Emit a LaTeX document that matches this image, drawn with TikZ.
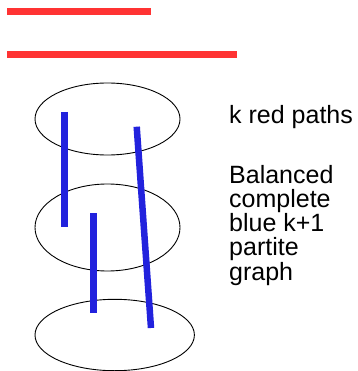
\documentclass[tikz,border=0pt]{standalone}
\usepackage{fontspec}
\setmainfont{Liberation Sans}
\begin{document}
\begin{tikzpicture}[x=1pt,y=-1pt,
  redpath/.style={draw={rgb,255:red,255;green,51;blue,51},line width=7pt},
  blueedge/.style={draw={rgb,255:red,34;green,34;blue,221},line width=6.5pt},
  part/.style={draw=black,line width=0.9pt},
  label/.style={anchor=base west,inner sep=0pt,font=\fontsize{25}{24.25}\selectfont,align=left}]
\useasboundingbox (0,0) rectangle (357,371);
% red paths
\coordinate (r1a) at (7,11.5);   \coordinate (r1b) at (151,11.5);
\coordinate (r2a) at (7,54.5);   \coordinate (r2b) at (237,54.5);
\draw[redpath] (r1a) -- (r1b);
\draw[redpath] (r2a) -- (r2b);
% the three parts
\draw[part] (107.5,119) ellipse [x radius=72.5, y radius=36];
\draw[part] (107.5,227.5) ellipse [x radius=72.5, y radius=43.5];
\draw[part] (114.7,335) ellipse [x radius=79.7, y radius=35.7];
% blue edges between parts
\coordinate (b1a) at (64.3,112);  \coordinate (b1b) at (64.3,227);
\coordinate (b2a) at (93.3,213);  \coordinate (b2b) at (93.3,313);
\coordinate (b3a) at (136.7,126.7); \coordinate (b3b) at (151,328);
\draw[blueedge] (b1a) -- (b1b);
\draw[blueedge] (b2a) -- (b2b);
\draw[blueedge] (b3a) -- (b3b);
% labels (a multi-line node's base is its last line)
\node[label] (t1) at (229,124) {k red paths};
\node[label] (t2) at (229,280) {Balanced\\complete\\blue k+1\\partite\\graph};
\end{tikzpicture}
\end{document}
